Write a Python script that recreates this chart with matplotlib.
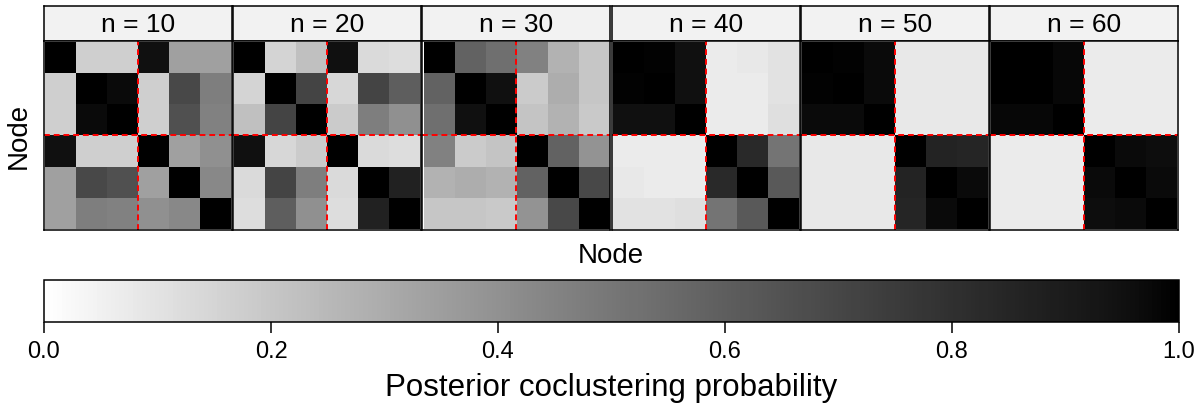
import matplotlib; matplotlib.use('Agg')
import matplotlib.pyplot as plt
from matplotlib.colors import ListedColormap
from matplotlib.cm import ScalarMappable
import numpy as np

plt.rcParams['font.family'] = ['Liberation Sans', 'DejaVu Sans']

# ---- data: posterior coclustering matrices (6 nodes) ----
sizes = [10, 20, 30, 40, 50, 60]
p10 = [[1.00, 0.17, 0.17, 0.95, 0.34, 0.34],
       [0.17, 1.00, 0.97, 0.17, 0.69, 0.47],
       [0.17, 0.97, 1.00, 0.17, 0.66, 0.46],
       [0.95, 0.17, 0.17, 1.00, 0.34, 0.40],
       [0.34, 0.69, 0.66, 0.34, 1.00, 0.43],
       [0.34, 0.47, 0.46, 0.40, 0.43, 1.00]]
p20 = [[1.00, 0.15, 0.22, 0.95, 0.13, 0.12],
       [0.15, 1.00, 0.71, 0.14, 0.71, 0.60],
       [0.22, 0.71, 1.00, 0.18, 0.47, 0.40],
       [0.95, 0.14, 0.18, 1.00, 0.13, 0.12],
       [0.13, 0.71, 0.47, 0.13, 1.00, 0.87],
       [0.12, 0.60, 0.40, 0.12, 0.87, 1.00]]
p30 = [[1.00, 0.58, 0.53, 0.46, 0.27, 0.20],
       [0.58, 1.00, 0.95, 0.18, 0.29, 0.20],
       [0.53, 0.95, 1.00, 0.21, 0.27, 0.19],
       [0.46, 0.18, 0.21, 1.00, 0.58, 0.39],
       [0.27, 0.29, 0.27, 0.58, 1.00, 0.69],
       [0.20, 0.20, 0.19, 0.39, 0.69, 1.00]]
p40 = [[1.00, 0.99, 0.95, 0.07, 0.08, 0.10],
       [0.99, 1.00, 0.95, 0.07, 0.07, 0.10],
       [0.95, 0.95, 1.00, 0.07, 0.07, 0.11],
       [0.07, 0.07, 0.07, 1.00, 0.83, 0.51],
       [0.08, 0.07, 0.07, 0.83, 1.00, 0.62],
       [0.10, 0.10, 0.11, 0.51, 0.62, 1.00]]
p50 = [[1.00, 0.99, 0.97, 0.08, 0.08, 0.08],
       [0.99, 1.00, 0.97, 0.08, 0.08, 0.08],
       [0.97, 0.97, 1.00, 0.08, 0.08, 0.08],
       [0.08, 0.08, 0.08, 1.00, 0.86, 0.85],
       [0.08, 0.08, 0.08, 0.86, 1.00, 0.97],
       [0.08, 0.08, 0.08, 0.85, 0.97, 1.00]]
p60 = [[1.00, 1.00, 0.98, 0.07, 0.07, 0.07],
       [1.00, 1.00, 0.98, 0.07, 0.07, 0.07],
       [0.98, 0.98, 1.00, 0.07, 0.07, 0.07],
       [0.07, 0.07, 0.07, 1.00, 0.97, 0.96],
       [0.07, 0.07, 0.07, 0.97, 1.00, 0.97],
       [0.07, 0.07, 0.07, 0.96, 0.97, 1.00]]
mats = [p10, p20, p30, p40, p50, p60]
split = 3.5  # block boundary between the two clusters
cb_ticks = [0.0, 0.2, 0.4, 0.6, 0.8, 1.0]

# white -> black gradient, linear in CIELAB lightness (like ggplot)
L = np.linspace(100, 0, 256)
Y = np.where(L > 8, ((L + 16) / 116) ** 3, L / 903.3)
g = np.where(Y > 0.0031308, 1.055 * Y ** (1 / 2.4) - 0.055, 12.92 * Y)
cmap = ListedColormap(np.column_stack([g, g, g]))

W, H = 1199, 404
fig = plt.figure(figsize=(W / 100, H / 100), dpi=100)

def px_axes(x0, y0, x1, y1):
    return fig.add_axes([x0 / W, 1 - y1 / H, (x1 - x0) / W, (y1 - y0) / H])

pw, gap = 188, 1.2
for i, (n, m) in enumerate(zip(sizes, mats)):
    x0 = 44 + i * (pw + gap)
    st = px_axes(x0, 6, x0 + pw, 41)
    st.set_facecolor('#f2f2f2')
    st.set_xticks([]); st.set_yticks([])
    for s in st.spines.values():
        s.set_color('black'); s.set_linewidth(1.1)
    st.text(0.5, 0.45, f'n = {n}', ha='center', va='center', fontsize=19,
            transform=st.transAxes)

    ax = px_axes(x0, 41, x0 + pw, 230)
    ax.imshow(np.array(m), cmap=cmap, vmin=0, vmax=1, aspect='auto',
              extent=(0.5, 6.5, 6.5, 0.5), interpolation='nearest')
    ax.set_xlim(0.46, 6.54); ax.set_ylim(6.54, 0.46)
    ax.axhline(split, color='red', lw=1.4, ls=(0, (3, 2)))
    ax.axvline(split, color='red', lw=1.4, ls=(0, (3, 2)))
    ax.set_xticks([]); ax.set_yticks([])
    for s in ax.spines.values():
        s.set_color('black'); s.set_linewidth(1.1)

fig.text(611 / W, 1 - 256 / H, 'Node', ha='center', va='center', fontsize=20)
fig.text(19 / W, 1 - 136 / H, 'Node', ha='center', va='center', fontsize=20,
         rotation=90)

cax = px_axes(44, 280, 1179, 322)
cb = fig.colorbar(ScalarMappable(cmap=cmap, norm=plt.Normalize(0, 1)),
                  cax=cax, orientation='horizontal', ticks=cb_ticks)
cb.outline.set_edgecolor('black'); cb.outline.set_linewidth(1.1)
cax.tick_params(axis='x', length=8, width=1.1, color='black', labelsize=17, pad=6)
cax.set_xticklabels([f'{t:.1f}' for t in cb_ticks])
fig.text(611 / W, 8 / H, 'Posterior coclustering probability', ha='center',
         va='baseline', fontsize=22.5)

fig.savefig('out.png', dpi=100, facecolor='white')
